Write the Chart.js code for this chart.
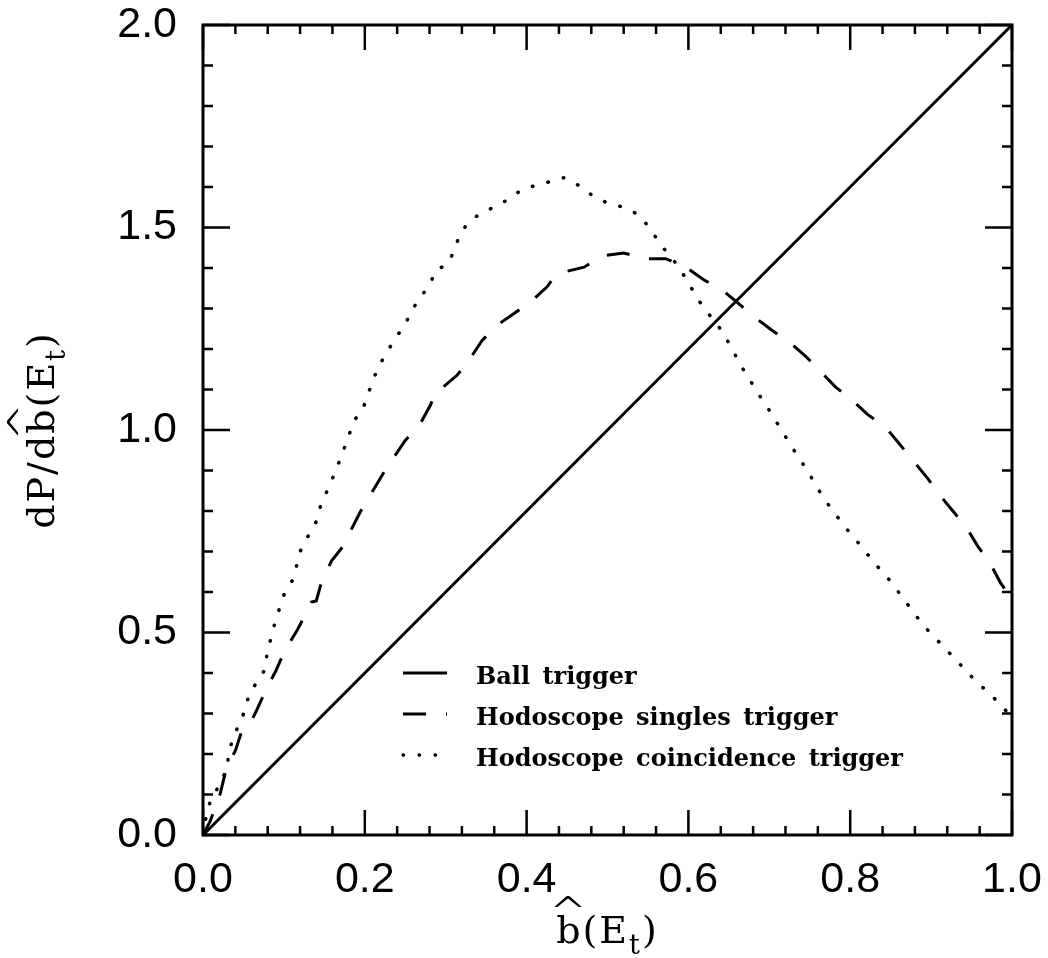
<!DOCTYPE html>
<html><head><meta charset="utf-8">
<script src="https://cdn.jsdelivr.net/npm/chart.js@4.4.1/dist/chart.umd.min.js"></script>
<style>html,body{margin:0;padding:0;background:#fff}canvas{display:block}</style>
</head><body>
<canvas id="c" width="1048" height="958"></canvas>
<script>
// ---- data ----
const seriesLabels = ['Ball trigger', 'Hodoscope singles trigger', 'Hodoscope coincidence trigger'];

const ballX = [0.0, 1.0];
const ballY = [0.0, 2.0];

const singlesX = [0.0, 0.009, 0.021, 0.029, 0.040, 0.048, 0.058, 0.067, 0.079, 0.090, 0.101, 0.116, 0.128, 0.134, 0.140, 0.147, 0.159, 0.172, 0.195, 0.225,
  0.250, 0.269, 0.281, 0.289, 0.295, 0.314, 0.330, 0.345, 0.363, 0.384, 0.407, 0.425, 0.436, 0.446, 0.471, 0.494, 0.520, 0.547, 0.572, 0.599,
  0.619, 0.644, 0.660, 0.677, 0.702, 0.726, 0.745, 0.764, 0.782, 0.803, 0.821, 0.844, 0.860, 0.877, 0.896, 0.912, 0.929, 0.945, 0.958, 0.974, 0.986, 1.0];
const singlesY = [0.0, 0.035, 0.100, 0.166, 0.208, 0.257, 0.274, 0.311, 0.364, 0.405, 0.455, 0.504, 0.550, 0.575, 0.578, 0.628, 0.677, 0.710, 0.800, 0.900,
  0.974, 1.017, 1.061, 1.098, 1.103, 1.135, 1.176, 1.221, 1.258, 1.287, 1.320, 1.353, 1.382, 1.390, 1.402, 1.430, 1.437, 1.423, 1.423, 1.399,
  1.371, 1.342, 1.316, 1.286, 1.248, 1.215, 1.182, 1.143, 1.106, 1.073, 1.039, 1.006, 0.968, 0.926, 0.880, 0.836, 0.795, 0.755, 0.712, 0.667, 0.622, 0.583];

const coincX = [0.0, 0.005, 0.011, 0.020, 0.030, 0.032, 0.045, 0.052, 0.057, 0.068, 0.077, 0.079, 0.089, 0.095, 0.101, 0.111, 0.121, 0.131, 0.140, 0.145,
  0.160, 0.170, 0.180, 0.186, 0.197, 0.203, 0.210, 0.217, 0.227, 0.237, 0.249, 0.257, 0.268, 0.280, 0.287, 0.303, 0.311, 0.317, 0.328, 0.344,
  0.361, 0.378, 0.393, 0.411, 0.429, 0.446, 0.462, 0.480, 0.500, 0.520, 0.540, 0.555, 0.565, 0.576, 0.588, 0.599, 0.609, 0.620, 0.634, 0.644,
  0.654, 0.663, 0.674, 0.684, 0.695, 0.705, 0.716, 0.726, 0.737, 0.748, 0.759, 0.770, 0.781, 0.793, 0.806, 0.818, 0.830, 0.844, 0.856, 0.867,
  0.879, 0.891, 0.905, 0.918, 0.932, 0.945, 0.959, 0.974, 0.988, 1.0];
const coincY = [0.0, 0.059, 0.094, 0.121, 0.166, 0.209, 0.278, 0.307, 0.349, 0.381, 0.410, 0.447, 0.525, 0.562, 0.599, 0.630, 0.705, 0.742, 0.774, 0.811,
  0.880, 0.930, 0.984, 1.022, 1.048, 1.083, 1.122, 1.157, 1.190, 1.225, 1.257, 1.291, 1.327, 1.356, 1.393, 1.411, 1.445, 1.481, 1.513, 1.536,
  1.551, 1.570, 1.592, 1.604, 1.613, 1.623, 1.607, 1.581, 1.560, 1.550, 1.530, 1.490, 1.460, 1.432, 1.404, 1.366, 1.333, 1.297, 1.267, 1.234,
  1.202, 1.164, 1.131, 1.096, 1.065, 1.032, 0.997, 0.964, 0.930, 0.897, 0.858, 0.824, 0.794, 0.762, 0.731, 0.702, 0.671, 0.641, 0.610, 0.580,
  0.548, 0.516, 0.487, 0.459, 0.430, 0.401, 0.373, 0.346, 0.317, 0.290];

const xTickValues = [0.0, 0.2, 0.4, 0.6, 0.8, 1.0];
const yTickValues = [0.0, 0.5, 1.0, 1.5, 2.0];
const xMinorStep = 0.04;
const yMinorStep = 0.1;

const xTitleParts = ['b', '(E', 't', ')'];          // b̂(Eₜ)
const yTitleParts = ['dP/d', 'b', '(E', 't', ')'];  // dP/db̂(Eₜ)

// ---- build datasets ----
const toPts = (xs, ys) => xs.map((x, i) => ({x: x, y: ys[i]}));

const datasets = [
  {label: seriesLabels[0], data: toPts(ballX, ballY), borderColor: '#000', borderWidth: 3, borderDash: [], showLine: true, pointRadius: 0},
  {label: seriesLabels[1], data: toPts(singlesX, singlesY), borderColor: '#000', borderWidth: 3, borderDash: [23, 20], showLine: true, pointRadius: 0},
  {label: seriesLabels[2], data: toPts(coincX, coincY), borderColor: '#000', borderWidth: 3.5, borderDash: [0.5, 15.5], borderCapStyle: 'round', showLine: true, pointRadius: 0}
];

// ---- plugins ----
const frameTicks = {
  id: 'frameTicks',
  afterDatasetsDraw(chart) {
    const {ctx, chartArea: a, scales} = chart;
    const xs = scales.x, ys = scales.y;
    ctx.save();
    ctx.strokeStyle = '#000';
    ctx.lineCap = 'butt';
    ctx.lineWidth = 2.5;
    const major = 25, minor = 9;
    const nx = Math.round((xs.max - xs.min) / xMinorStep);
    for (let i = 0; i <= nx; i++) {
      const v = xs.min + i * xMinorStep;
      const isMajor = xTickValues.some(t => Math.abs(t - v) < 1e-6);
      const L = isMajor ? major : minor;
      const px = xs.getPixelForValue(v);
      ctx.beginPath();
      ctx.moveTo(px, a.bottom); ctx.lineTo(px, a.bottom - L);
      ctx.moveTo(px, a.top); ctx.lineTo(px, a.top + L);
      ctx.stroke();
    }
    const ny = Math.round((ys.max - ys.min) / yMinorStep);
    for (let i = 0; i <= ny; i++) {
      const v = ys.min + i * yMinorStep;
      const isMajor = yTickValues.some(t => Math.abs(t - v) < 1e-6);
      const L = isMajor ? major + 2 : minor + 1;
      const py = ys.getPixelForValue(v);
      ctx.beginPath();
      ctx.moveTo(a.left, py); ctx.lineTo(a.left + L, py);
      ctx.moveTo(a.right, py); ctx.lineTo(a.right - L, py);
      ctx.stroke();
    }
    ctx.lineWidth = 3;
    ctx.strokeRect(a.left, a.top, a.right - a.left, a.bottom - a.top);
    ctx.restore();
  }
};

const innerLegend = {
  id: 'innerLegend',
  afterDatasetsDraw(chart, args, opts) {
    const {ctx, chartArea: a} = chart;
    ctx.save();
    ctx.fillStyle = '#000';
    ctx.strokeStyle = '#000';
    ctx.font = 'bold ' + opts.fontSize + 'px "DejaVu Serif"';
    if ('wordSpacing' in ctx) ctx.wordSpacing = opts.wordSpacing + 'px';
    ctx.textBaseline = 'alphabetic';
    ctx.textAlign = 'left';
    chart.data.datasets.forEach((ds, i) => {
      const y = a.top + opts.top + i * opts.rowGap;
      const x0 = a.left + opts.left;
      ctx.beginPath();
      ctx.lineWidth = ds.borderWidth;
      ctx.setLineDash(ds.borderDash || []);
      ctx.lineCap = ds.borderCapStyle || 'butt';
      ctx.moveTo(x0, y);
      ctx.lineTo(x0 + opts.sample, y);
      ctx.stroke();
      ctx.setLineDash([]);
      ctx.fillText(ds.label, x0 + opts.textOffset, y + opts.baselineShift);
    });
    ctx.restore();
  }
};

function drawSpaced(ctx, text, x, y, spacing) {
  for (const ch of text) {
    ctx.fillText(ch, x, y);
    x += ctx.measureText(ch).width + spacing;
  }
  return x;
}
function spacedWidth(ctx, text, spacing) {
  let w = 0;
  for (const ch of text) w += ctx.measureText(ch).width + spacing;
  return w;
}

// draws parts centred at (0,0) on the baseline; the part at hatIndex gets a circumflex
function drawTitle(ctx, parts, hatIndex, size, spacing) {
  const mainFont = size + 'px "DejaVu Serif"';
  const subFont = Math.round(size * 0.7) + 'px "DejaVu Serif"';
  const subIndex = parts.length - 2;
  let total = 0;
  parts.forEach((p, i) => {
    ctx.font = (i === subIndex) ? subFont : mainFont;
    total += spacedWidth(ctx, p, spacing);
  });
  let x = -total / 2;
  parts.forEach((p, i) => {
    if (i === subIndex) {
      ctx.font = subFont;
      x = drawSpaced(ctx, p, x, size * 0.28, spacing);
    } else {
      ctx.font = mainFont;
      const start = x;
      x = drawSpaced(ctx, p, x, 0, spacing);
      if (i === hatIndex) {
        const bw = ctx.measureText(p).width;
        ctx.save();
        ctx.font = '300 40px "DejaVu Sans"';
        const m = ctx.measureText('^');
        const hw = m.actualBoundingBoxLeft + m.actualBoundingBoxRight;
        const hh = m.actualBoundingBoxAscent + m.actualBoundingBoxDescent;
        const targetW = bw * 1.15, targetH = size * 0.30;
        const sx = targetW / hw, sy = targetH / hh;
        const cx = start + bw / 2;
        const topY = -size * 1.27;
        ctx.translate(cx - targetW / 2, topY);
        ctx.scale(sx, sy);
        ctx.fillText('^', m.actualBoundingBoxLeft, m.actualBoundingBoxAscent);
        ctx.restore();
      }
    }
  });
}

const axisTitles = {
  id: 'axisTitles',
  afterDraw(chart, args, opts) {
    const {ctx, chartArea: a} = chart;
    ctx.save();
    ctx.fillStyle = '#000';
    ctx.textBaseline = 'alphabetic';
    ctx.textAlign = 'left';
    ctx.save();
    ctx.translate((a.left + a.right) / 2, opts.xBaseline);
    drawTitle(ctx, xTitleParts, 0, opts.size, opts.spacing);
    ctx.restore();
    ctx.save();
    ctx.translate(opts.yBaseline, (a.top + a.bottom) / 2);
    ctx.rotate(-Math.PI / 2);
    drawTitle(ctx, yTitleParts, 1, opts.size, opts.spacing);
    ctx.restore();
    ctx.restore();
  }
};

function noScalePadding(s) {
  s.paddingTop = 0; s.paddingBottom = 0; s.paddingLeft = 0; s.paddingRight = 0;
}

new Chart(document.getElementById('c'), {
  type: 'scatter',
  data: {datasets: datasets},
  plugins: [frameTicks, innerLegend, axisTitles],
  options: {
    responsive: false,
    animation: false,
    events: [],
    layout: {padding: {left: 0, right: 36, top: 25, bottom: 0}},
    plugins: {
      legend: {display: false},
      tooltip: {enabled: false},
      innerLegend: {left: 200, top: 648, rowGap: 41, sample: 44, textOffset: 73, baselineShift: 11, fontSize: 24, wordSpacing: 4},
      axisTitles: {xBaseline: 943, yBaseline: 54, size: 38, spacing: 2}
    },
    scales: {
      x: {
        type: 'linear', min: 0, max: 1,
        afterFit(s) { s.height = 123; noScalePadding(s); },
        afterBuildTicks(s) { s.ticks = xTickValues.map(v => ({value: v})); },
        grid: {display: false}, border: {display: false},
        ticks: {padding: 11, color: '#000', font: {family: 'Liberation Sans', size: 43}, maxRotation: 0, autoSkip: false,
                callback: v => Number(v).toFixed(1)}
      },
      y: {
        type: 'linear', min: 0, max: 2,
        afterFit(s) { s.width = 203; noScalePadding(s); },
        afterBuildTicks(s) { s.ticks = yTickValues.map(v => ({value: v})); },
        grid: {display: false}, border: {display: false},
        ticks: {padding: 18, color: '#000', font: {family: 'Liberation Sans', size: 43}, autoSkip: false,
                callback: v => Number(v).toFixed(1)}
      }
    }
  }
});
</script>
</body></html>
